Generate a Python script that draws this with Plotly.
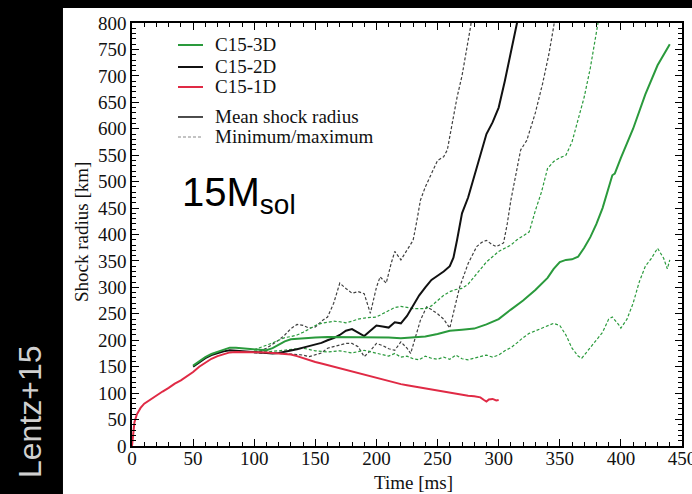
import plotly.graph_objects as go

# ---- C15-1D mean shock radius ----
t_1d = [0, 1, 2, 4, 7, 10, 15, 20, 25, 30, 35, 40, 45, 50, 55, 60, 65, 70, 75, 80,
        85, 90, 95, 100, 105, 110, 115, 120, 125, 130, 135, 140, 145, 150, 155, 160,
        165, 170, 175, 180, 185, 190, 195, 200, 205, 210, 215, 220, 225, 230, 235,
        240, 245, 250, 255, 260, 265, 270, 275, 280, 285, 288, 290, 292, 295, 298, 300]
r_1d = [0, 30, 45, 60, 72, 80, 88, 96, 103, 110, 118, 124, 132, 140, 150, 158, 165, 170,
        174, 177, 178, 178, 178, 178, 177, 177, 176, 175, 174, 173, 170, 166, 162, 159,
        156, 153, 150, 146, 143, 140, 137, 134, 131, 128, 126, 123, 120, 117, 115, 113,
        111, 108, 106, 104, 102, 100, 98, 96, 95, 94, 92, 87, 84, 88, 89, 86, 87]

# ---- C15-3D mean / min / max ----
t_3d = [50, 55, 60, 65, 70, 75, 80, 85, 90, 95, 100, 105, 110, 115, 120, 125, 130, 140,
        150, 160, 170, 180, 190, 200, 210, 220, 230, 240, 250, 260, 270, 280, 290, 300,
        310, 320, 330, 340, 345, 350, 355, 360, 365, 370, 375, 380, 385, 390, 393, 395,
        400, 410, 420, 430, 440]
r_3d = [152, 160, 168, 174, 178, 182, 186, 186, 185, 184, 184, 182, 181, 185, 192, 198,
        202, 204, 205, 206, 206, 206, 206, 206, 205, 204, 205, 207, 212, 218, 220, 222,
        230, 240, 258, 275, 295, 318, 335, 348, 352, 353, 358, 375, 395, 420, 450, 490,
        512, 515, 545, 600, 665, 720, 760]

t_3d_min = [100, 110, 120, 130, 140, 150, 160, 170, 180, 190, 200, 205, 210, 215, 220,
            225, 230, 235, 240, 245, 250, 255, 260, 265, 270, 275, 280, 285, 290, 295,
            300, 305, 310, 315, 320, 325, 330, 335, 340, 345, 350, 355, 360, 365, 368,
            372, 378, 385, 390, 393, 398, 400, 405, 410, 415, 420, 425, 430, 435, 438, 440]
r_3d_min = [180, 178, 180, 183, 185, 180, 178, 180, 176, 181, 175, 172, 170, 175, 168,
            170, 165, 163, 170, 166, 164, 168, 164, 172, 165, 163, 166, 168, 172, 168,
            172, 180, 186, 195, 205, 213, 218, 222, 228, 232, 228, 210, 185, 170, 166,
            178, 195, 215, 240, 244, 230, 223, 240, 270, 310, 340, 355, 374, 355, 335, 352]

t_3d_max = [100, 105, 110, 115, 120, 125, 130, 135, 140, 145, 150, 155, 160, 165, 170,
            175, 180, 185, 190, 195, 200, 205, 210, 215, 220, 225, 230, 235, 240, 245,
            250, 255, 260, 265, 270, 275, 280, 285, 290, 295, 300, 305, 310, 315, 320,
            325, 330, 335, 340, 345, 350, 355, 360, 365, 370, 375, 380, 382]
r_3d_max = [182, 186, 190, 195, 200, 205, 207, 210, 215, 222, 228, 232, 234, 236, 235,
            233, 236, 240, 242, 243, 244, 250, 256, 262, 264, 262, 260, 260, 260, 265,
            275, 285, 292, 296, 298, 306, 320, 335, 348, 358, 368, 374, 380, 390, 398,
            405, 445, 480, 525, 538, 545, 550, 575, 615, 660, 715, 785, 810]

# ---- C15-2D mean / min / max ----
t_2d = [50, 55, 60, 65, 70, 75, 80, 85, 90, 95, 100, 105, 110, 115, 120, 125, 130, 135,
        140, 145, 150, 155, 160, 165, 170, 175, 180, 185, 190, 195, 200, 205, 210, 215,
        220, 225, 230, 235, 240, 245, 250, 255, 260, 263, 266, 270, 275, 280, 285, 290,
        295, 300, 305, 310, 315, 316]
r_2d = [150, 158, 166, 172, 176, 179, 181, 180, 179, 178, 177, 176, 175, 175, 176, 178,
        180, 183, 186, 189, 191, 195, 200, 204, 210, 218, 221, 214, 208, 218, 228, 226,
        224, 234, 232, 246, 265, 285, 300, 314, 322, 330, 340, 356, 390, 440, 470, 510,
        550, 590, 612, 640, 690, 745, 800, 820]

t_2d_min = [100, 110, 120, 130, 140, 145, 150, 155, 160, 165, 170, 175, 180, 185, 190,
            195, 200, 205, 210, 215, 220, 225, 228, 232, 236, 241, 245, 250, 255, 260,
            263, 268, 275, 282, 286, 290, 294, 298, 304, 307, 310, 314, 318, 323, 330,
            336, 341, 345, 346]
r_2d_min = [176, 176, 175, 174, 172, 169, 172, 176, 185, 188, 190, 194, 194, 188, 169,
            180, 194, 190, 184, 181, 197, 185, 175, 205, 238, 263, 258, 250, 240, 223,
            250, 300, 345, 377, 385, 389, 382, 377, 384, 420, 465, 510, 560, 578, 630,
            686, 740, 793, 810]

t_2d_max = [100, 105, 110, 115, 120, 125, 130, 135, 140, 145, 150, 155, 160, 165, 170,
            175, 180, 185, 190, 195, 200, 203, 208, 212, 215, 220, 225, 230, 233, 236,
            240, 245, 250, 255, 258, 262, 266, 270, 274, 277, 278]
r_2d_max = [178, 180, 185, 192, 200, 210, 222, 230, 228, 223, 225, 236, 244, 270, 308,
            298, 289, 292, 288, 251, 300, 320, 308, 345, 368, 352, 370, 389, 425, 465,
            490, 515, 540, 547, 560, 610, 660, 700, 750, 793, 810]

x_ticks = [0, 50, 100, 150, 200, 250, 300, 350, 400, 450]
y_ticks = [0, 50, 100, 150, 200, 250, 300, 350, 400, 450, 500, 550, 600, 650, 700, 750, 800]

# key entries
key_labels = ["C15-3D", "C15-2D", "C15-1D", "Mean shock radius", "Minimum/maximum"]

GREEN = "#2a9a3c"
RED = "#e02a45"
BLACK = "#111111"
DASH_GREY = "#404040"
SERIF = "Liberation Serif, Times New Roman, serif"
SANS = "Liberation Sans, Arial, sans-serif"
DASH = "3px,2px"

fig = go.Figure()

# min/max envelopes (dashed)
for tx, ry, col in [(t_2d_min, r_2d_min, DASH_GREY), (t_2d_max, r_2d_max, DASH_GREY),
                    (t_3d_min, r_3d_min, GREEN), (t_3d_max, r_3d_max, GREEN)]:
    fig.add_trace(go.Scatter(x=tx, y=ry, mode="lines", showlegend=False, hoverinfo="skip",
                             line=dict(color=col, width=1.2, dash=DASH)))

# mean shock radii
fig.add_trace(go.Scatter(x=t_2d, y=r_2d, mode="lines", name="C15-2D", showlegend=False,
                         line=dict(color=BLACK, width=2)))
fig.add_trace(go.Scatter(x=t_3d, y=r_3d, mode="lines", name="C15-3D", showlegend=False,
                         line=dict(color=GREEN, width=2)))
fig.add_trace(go.Scatter(x=t_1d, y=r_1d, mode="lines", name="C15-1D", showlegend=False,
                         line=dict(color=RED, width=2)))

axis_common = dict(
    showline=True, linecolor="black", linewidth=1.5, mirror="ticks",
    ticks="inside", ticklen=7, tickwidth=1.2, tickcolor="black",
    showgrid=False, zeroline=False, automargin=False,
    tickfont=dict(family=SERIF, size=19, color="#111111"),
)

fig.update_xaxes(range=[0, 450], tickvals=x_ticks, ticklabelstandoff=-6,
                 ticklabeloverflow="allow",
                 minor=dict(dtick=10, ticks="inside", ticklen=4, tickcolor="black", tickwidth=1),
                 **axis_common)
fig.update_yaxes(range=[0, 800], tickvals=y_ticks,
                 minor=dict(dtick=10, ticks="inside", ticklen=4, tickcolor="black", tickwidth=1),
                 **axis_common)

# hand-built key in the upper-left corner of the frame (paper coordinates)
key_styles = [(GREEN, 2, "solid"), (BLACK, 2, "solid"), (RED, 2, "solid"),
              (BLACK, 1.5, "solid"), ("#888888", 1.2, DASH)]
key_rows = [0.948, 0.896, 0.8487, 0.7778, 0.7305]
shapes = [dict(type="rect", xref="paper", yref="paper", x0=-0.1255, x1=1.1,
               y0=-0.2, y1=1.0355, fillcolor="white", line=dict(width=0), layer="below")]
annotations = []
for label, (col, w, dash), yy in zip(key_labels, key_styles, key_rows):
    shapes.append(dict(type="line", xref="paper", yref="paper", x0=0.0836, x1=0.1291,
                       y0=yy, y1=yy, line=dict(color=col, width=w, dash=dash)))
    annotations.append(dict(text=label, xref="paper", yref="paper", x=0.1473, y=yy,
                            xanchor="left", yanchor="middle", showarrow=False,
                            font=dict(family=SERIF, size=19, color="#111111")))

annotations += [
    dict(text="Time [ms]", xref="paper", yref="paper", x=0.5127, y=-0.086,
         xanchor="center", yanchor="middle", showarrow=False,
         font=dict(family=SERIF, size=19, color="#111111")),
    dict(text="Shock radius [km]", xref="paper", yref="paper", x=-0.0927, y=0.5059,
         xanchor="center", yanchor="middle", textangle=-90, showarrow=False,
         font=dict(family=SERIF, size=19, color="#111111")),
    dict(text="15M<sub>sol</sub>", xref="paper", yref="paper", x=0.088, y=0.593,
         xanchor="left", yanchor="middle", showarrow=False,
         font=dict(family=SANS, size=40, color="black")),
    dict(text="Lentz+15", xref="paper", yref="paper", x=-0.1855, y=0.0827,
         xanchor="center", yanchor="middle", textangle=-90, showarrow=False,
         font=dict(family=SANS, size=32, color="#d0d0d0")),
]

fig.update_layout(
    width=692, height=494,
    margin=dict(l=132, r=10, t=23, b=48),
    paper_bgcolor="black", plot_bgcolor="white",
    showlegend=False,
    shapes=shapes,
    annotations=annotations,
)

fig.write_html("out.html")
